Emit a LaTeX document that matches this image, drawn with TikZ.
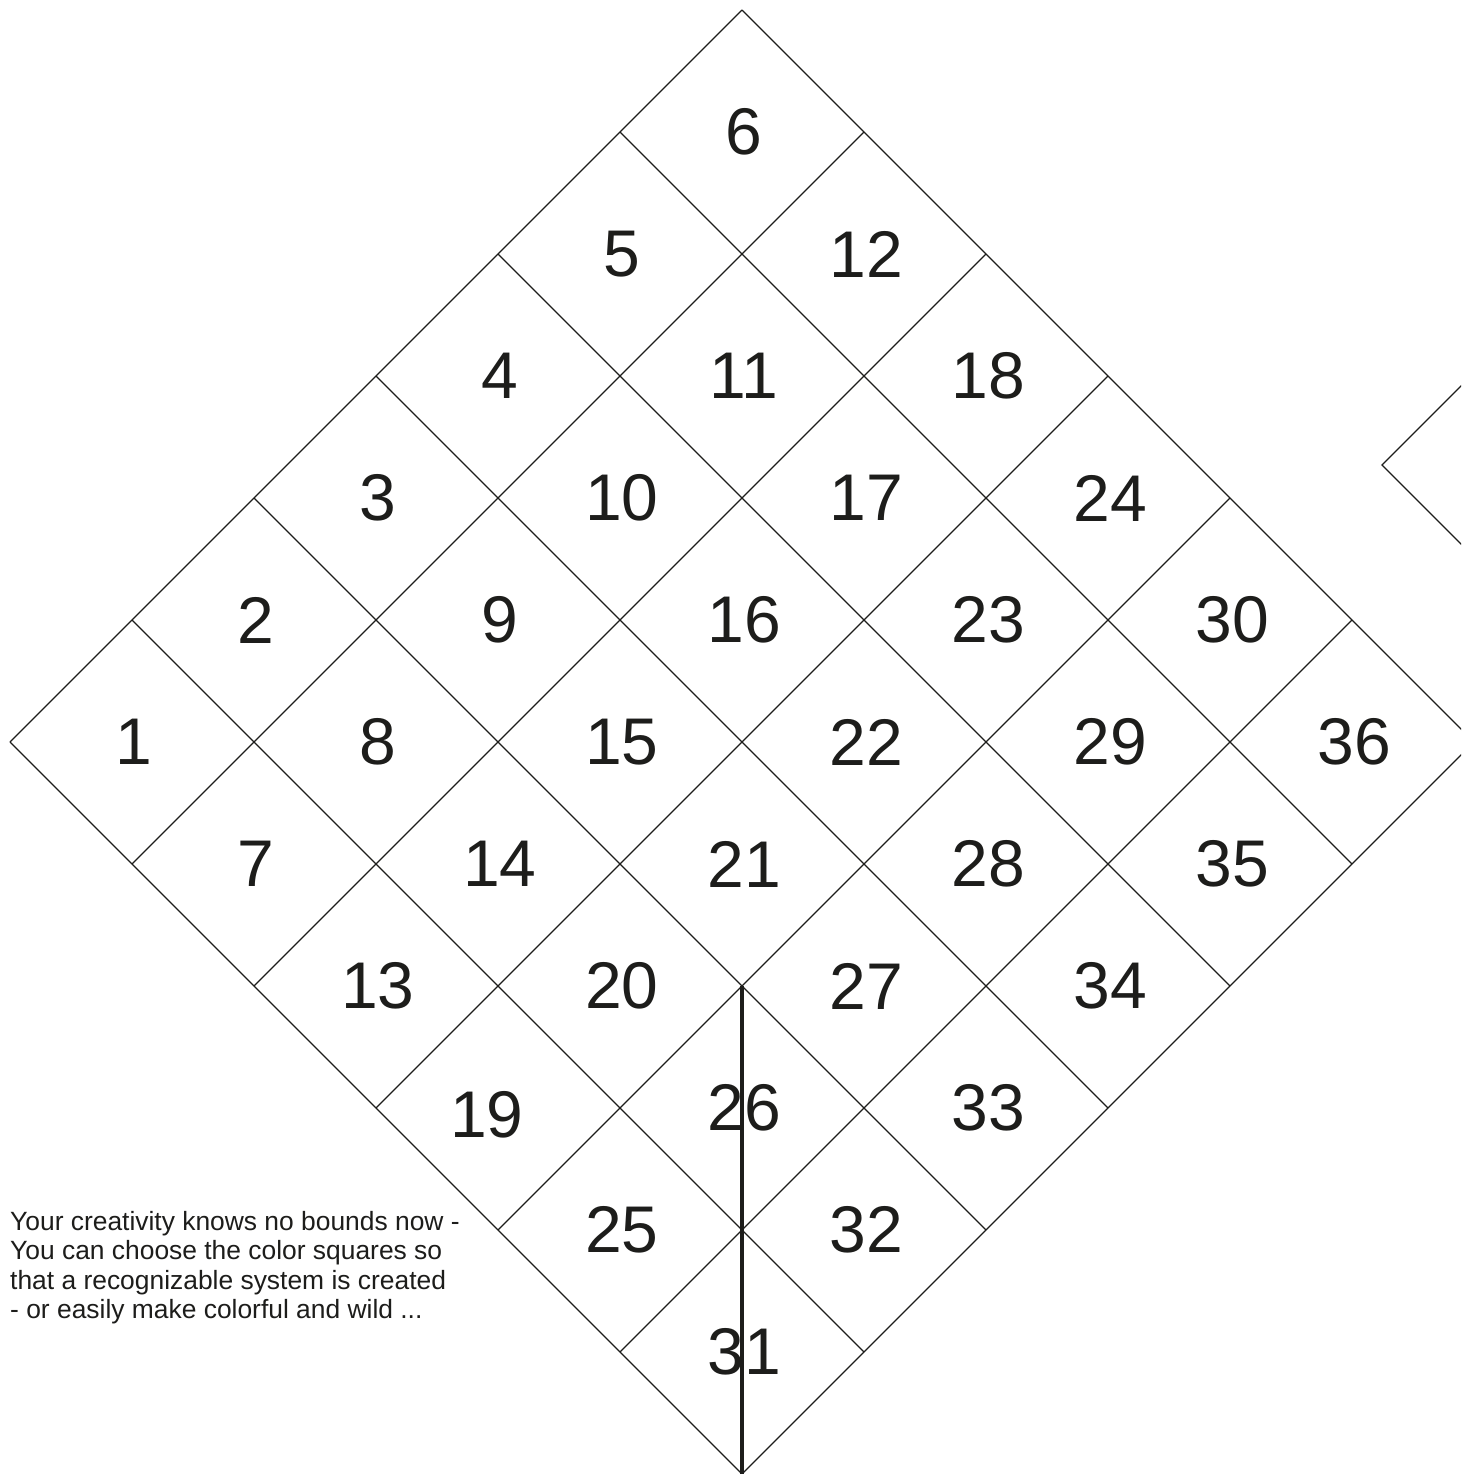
\documentclass[tikz,border=0pt]{standalone}
\usepackage{fontspec}
\setmainfont{Liberation Sans}
\definecolor{ink}{HTML}{1D1D1B}
\begin{document}
\begin{tikzpicture}[x=1pt,y=-1pt,
  gridline/.style={draw=ink,line width=1.3pt},
  thickline/.style={draw=ink,line width=3.2pt},
  cellnum/.style={text=ink,inner sep=0pt,font=\fontsize{66}{79}\selectfont},
  note/.style={text=ink,inner sep=0pt,anchor=base west,font=\fontsize{26.4}{30}\selectfont}]
\useasboundingbox (0,0) rectangle (1461,1474);
\clip (0,0) rectangle (1461,1474);
\fill[white] (0,0) rectangle (1461,1474);
% grid corners
\foreach \i in {0,...,6}{
  \foreach \j in {0,...,6}{
    \coordinate (p\i\j) at ({10+122*(\i+\j)},{742+122*(\i-\j)});
  }
}
\foreach \i in {0,...,6}{
  \draw[gridline] (p\i0) -- (p\i6);
  \draw[gridline] (p0\i) -- (p6\i);
}
% thick vertical line
\draw[thickline] (p42) -- (p60);
% partial shape at top right
\coordinate (v) at (1382,465);
\coordinate (va) at (1492,355);
\coordinate (vb) at (1492,575);
\draw[gridline] (va) -- (v) -- (vb);
% cell numbers
\foreach \a in {0,...,5}{
  \foreach \b in {0,...,5}{
    \pgfmathtruncatemacro{\n}{6*\a+\b+1}
    \ifnum\n=19\relax
      \node[cellnum] (c\n) at (487,1115) {\n};
    \else
      \node[cellnum] (c\n) at ({134+122*(\a+\b)},{742+122*(\a-\b)}) {\n};
    \fi
  }
}
% note text
\node[note] (t1) at (10,1230) {Your creativity knows no bounds now -};
\node[note] (t2) at (10,1259.5) {You can choose the color squares so};
\node[note] (t3) at (10,1289) {that a recognizable system is created};
\node[note] (t4) at (10,1318) {- or easily make colorful and wild ...};
\end{tikzpicture}
\end{document}
